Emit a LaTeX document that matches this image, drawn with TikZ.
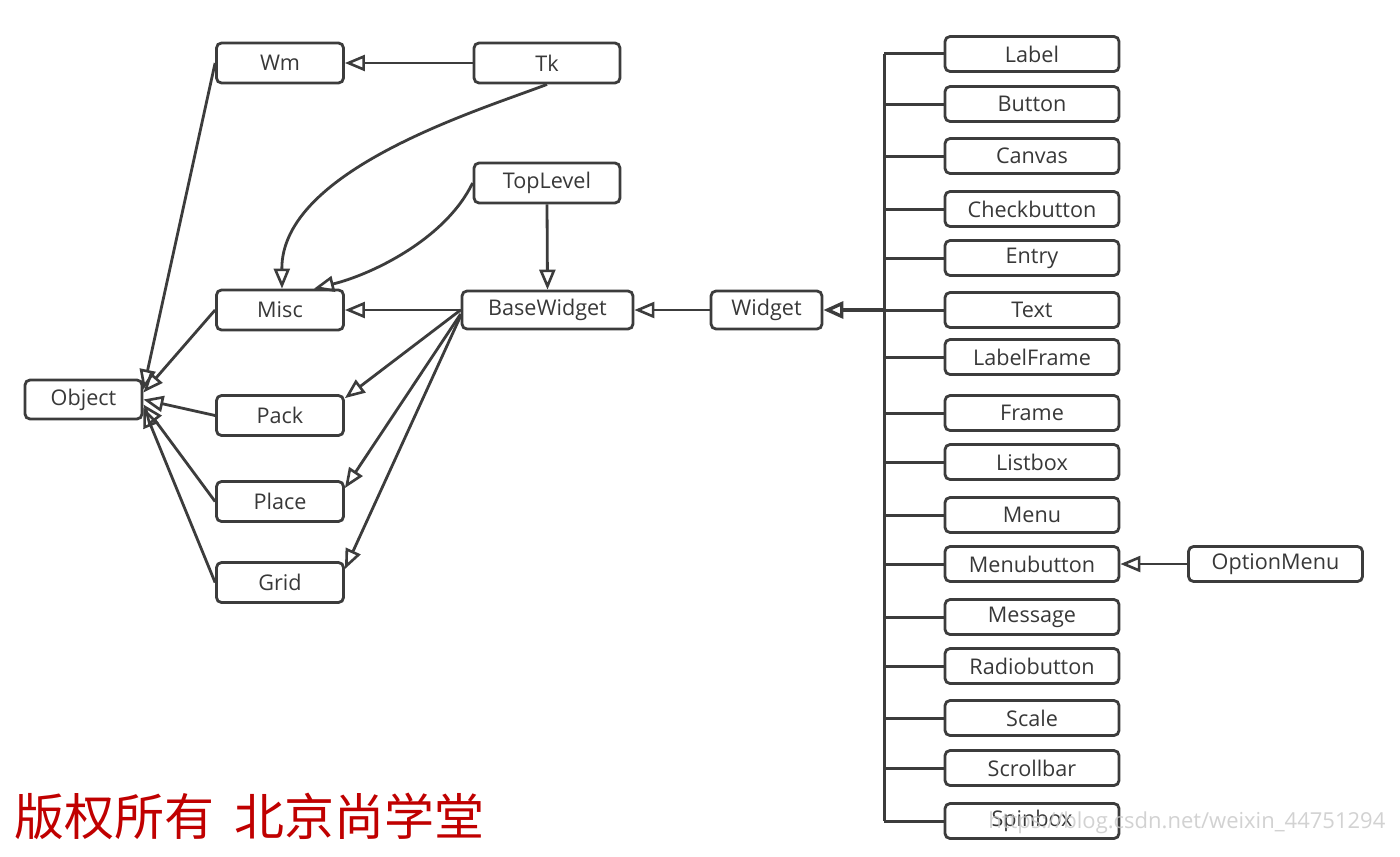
\documentclass[tikz,border=0pt]{standalone}
\usepackage{fontspec}
\setmainfont{Open Sans}
\newfontfamily\cjk{Noto Sans CJK SC}
\usetikzlibrary{arrows.meta}
\definecolor{ln}{HTML}{3C3C3C}
\definecolor{tx}{HTML}{383838}
\definecolor{cr}{HTML}{C00000}
\begin{document}
\begin{tikzpicture}[x=0.5pt,y=-0.5pt,
  box/.style={draw=ln,line width=1.4pt,rounded corners=2.5pt,inner sep=0pt,
    text=tx,font=\fontsize{10.8}{12}\selectfont,minimum height=20pt,minimum width=63.5pt},
  wbox/.style={box,minimum width=87pt,minimum height=17.5pt},
  inh/.style={draw=ln,line width=1.4pt,-{Triangle[open,length=10pt,width=8pt,line width=1.3pt]}},
  bus/.style={draw=ln,line width=1.5pt}]
\useasboundingbox (0,0) rectangle (1400,856);
\fill[white] (0,0) rectangle (1400,856);
% left nodes
\node[box] (wm) at (280,63) {Wm};
\node[box,minimum width=73pt] (tk) at (547,63) {Tk};
\node[box,minimum width=73pt] (top) at (547,183) {TopLevel};
\node[box] (misc) at (280,310) {Misc};
\node[box,minimum width=85.5pt,minimum height=19pt] (base) at (547.5,310) {BaseWidget};
\node[box,minimum width=55.5pt,minimum height=19pt] (widget) at (766.5,310) {Widget};
\node[box,minimum width=58.5pt,minimum height=19.5pt] (object) at (83.5,399.5) {Object};
\node[box] (pack) at (280,415.5) {Pack};
\node[box] (place) at (280,501.5) {Place};
\node[box] (grid) at (280,582.5) {Grid};
% right column
\foreach \n/\y in {Label/54,Button/104,Canvas/156,Checkbutton/209,Entry/258,Text/310,
  LabelFrame/357,Frame/413,Listbox/462,Menu/515,Menubutton/564,Message/617,
  Radiobutton/666,Scale/718,Scrollbar/768,Spinbox/821}{
  \node[wbox] (w\n) at (1032,\y) {\n};
}
\node[wbox] (opt) at (1275.5,564) {OptionMenu};
% bus
\coordinate (btop) at (884,54);
\coordinate (bbot) at (884,821);
\coordinate (bmid) at (884,310);
\draw[bus] (btop) -- (bbot);
\foreach \n in {Label,Button,Canvas,Checkbutton,Entry,Text,LabelFrame,Frame,Listbox,
  Menu,Menubutton,Message,Radiobutton,Scale,Scrollbar,Spinbox}{
  \draw[bus] (w\n.west) -- (w\n.west -| btop);
}
\draw[inh,line width=2.2pt,-{Triangle[open,length=10pt,width=8.5pt,line width=1.7pt]}] (bmid) -- (widget.east);
% inheritance arrows
\draw[inh] (tk.west) -- (wm.east);
\draw[inh] (opt.west) -- (wMenubutton.east);
\draw[inh] (top.south) -- (base.north);
\draw[inh] (widget.west) -- (base.east);
\draw[inh] (base.west) -- (misc.east);
\draw[inh] (tk.south) .. controls (480,110) and (281,170) .. ([xshift=1pt]misc.north);
\draw[inh] (top.west) .. controls (445,240) and (370,275) .. ([xshift=17pt]misc.north);
\draw[inh] (base.west) -- ([yshift=-2pt]pack.north east);
\draw[inh] ([yshift=-2pt]base.west) -- ([yshift=-4pt]place.north east);
\draw[inh] ([yshift=-3pt]base.west) -- ([yshift=-4pt]grid.north east);
\draw[inh] (wm.west) -- ([yshift=5pt]object.east);
\draw[inh] (misc.west) -- ([yshift=3.5pt]object.east);
\draw[inh] (pack.west) -- ([yshift=0pt]object.east);
\draw[inh] (place.west) -- ([yshift=-2.5pt]object.east);
\draw[inh] (grid.west) -- ([yshift=-4pt]object.east);
% footer
\node[anchor=west,text=cr,font=\cjk\fontsize{25}{28}\selectfont,inner sep=0pt] (copy) at (14,816) {版权所有\hspace{0.4em}北京尚学堂};
\node[anchor=west,text=black!22,opacity=0.8,font=\fontsize{11}{13}\selectfont,inner sep=0pt] (wmk) at (988,823) {https://blog.csdn.net/weixin\_44751294};
\end{tikzpicture}
\end{document}
